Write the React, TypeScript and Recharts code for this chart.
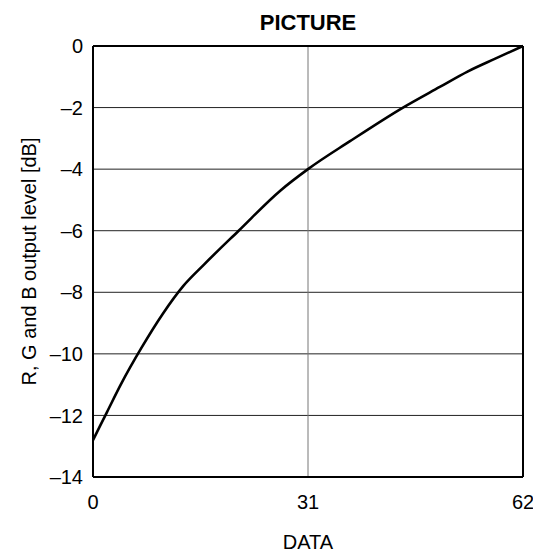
import {
  LineChart,
  Line,
  XAxis,
  YAxis,
  CartesianGrid,
  ReferenceLine,
} from "recharts";

const dataCodes = [0, 2, 4, 7, 10, 13, 16, 21, 27, 31, 37, 44.7, 50, 54, 58, 62];
const outputLevel = [
  -12.8, -11.9, -11.0, -9.8, -8.72, -7.8, -7.1, -6.0, -4.7, -4.0, -3.1, -2.0,
  -1.33, -0.83, -0.41, 0,
];
const xTicks = [0, 31, 62];
const yTicks = [-14, -12, -10, -8, -6, -4, -2, 0];

const data = dataCodes.map((d, i) => ({ code: d, level: outputLevel[i] }));

// minus sign in the original is an en dash
const fmtDash = (v: number) => String(v).replace("-", "\u2013");

const tickStyle = { fill: "#000", fontSize: 20 };

export default function App() {
  return (
    <div style={{ fontFamily: "'Liberation Sans', Arial, sans-serif" }}>
      <LineChart
        width={533}
        height={546}
        data={data}
        margin={{ top: 38, right: 18, bottom: 0, left: 0 }}
      >
        <CartesianGrid vertical={false} stroke="#222" strokeWidth={1} />
        <XAxis
          dataKey="code"
          type="number"
          domain={[0, 62]}
          ticks={xTicks}
          height={77}
          tickLine={false}
          tickSize={0}
          tickMargin={18}
          axisLine={{ stroke: "#000", strokeWidth: 2 }}
          tick={tickStyle}
          label={{
            value: "DATA",
            position: "insideBottom",
            offset: 5,
            fill: "#000",
            fontSize: 20,
          }}
        />
        <YAxis
          type="number"
          domain={[-14, 0]}
          ticks={yTicks}
          width={85}
          tickLine={false}
          tickSize={0}
          tickMargin={10}
          axisLine={{ stroke: "#000", strokeWidth: 2 }}
          tick={tickStyle}
          tickFormatter={fmtDash}
          label={{
            value: "R, G and B output level [dB]",
            angle: -90,
            position: "insideLeft",
            offset: 21,
            fill: "#000",
            fontSize: 20,
            style: { textAnchor: "middle" },
          }}
        />
        <ReferenceLine x={31} stroke="#777" strokeWidth={1} />
        <ReferenceLine
          y={0}
          stroke="#000"
          strokeWidth={2}
          label={{
            value: "PICTURE",
            position: "top",
            offset: 16,
            fill: "#000",
            fontSize: 22,
            fontWeight: "bold",
          }}
        />
        <ReferenceLine x={62} stroke="#000" strokeWidth={2} />
        <Line
          type="monotone"
          dataKey="level"
          stroke="#000"
          strokeWidth={2.6}
          dot={false}
          isAnimationActive={false}
        />
      </LineChart>
    </div>
  );
}
